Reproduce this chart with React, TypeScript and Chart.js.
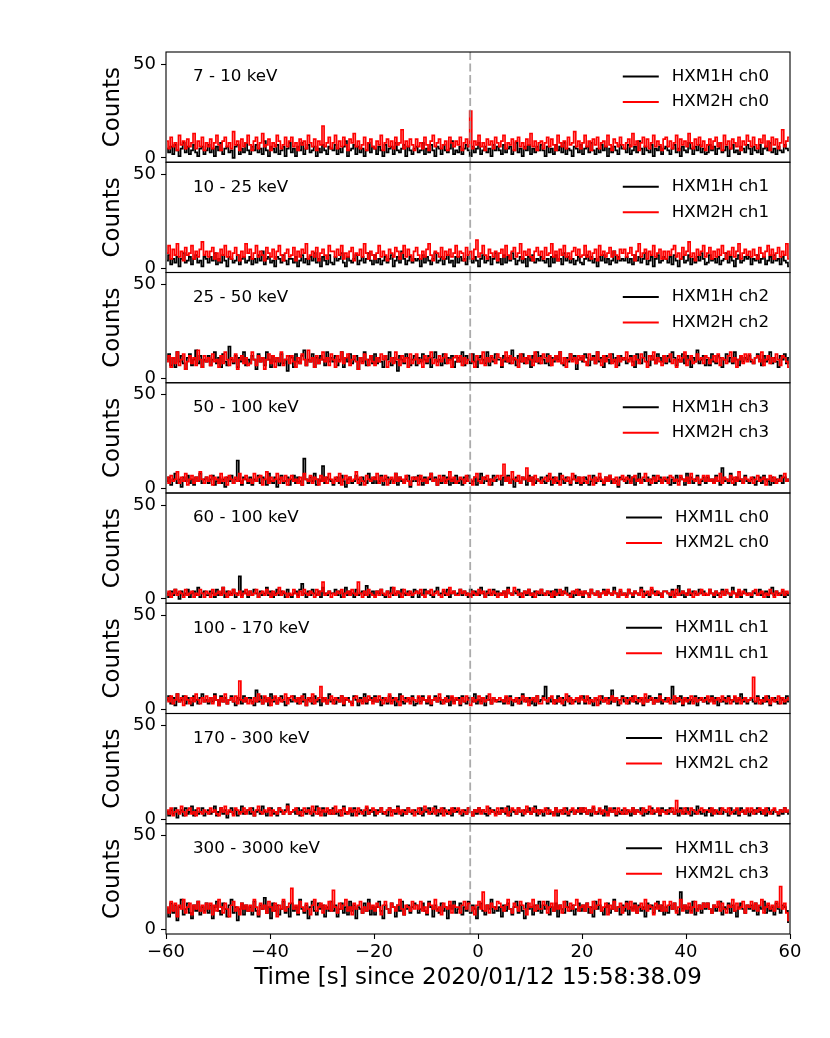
import { useEffect, useRef } from 'react'
import { Chart, registerables } from 'chart.js'

Chart.register(...registerables)

const FONT = '"DejaVu Sans", sans-serif'

// light curves, 0.4 s bins from -60 s to +60 s
const T_START = -60
const BIN = 0.4
const T_TRIGGER = -1.5

const X_TICKS = [-60, -40, -20, 0, 20, 40, 60]
const Y_TICKS = [0, 50]
const Y_MIN = -2.3
const Y_MAX = 56.4

const BANDS = ['7 - 10 keV', '10 - 25 keV', '25 - 50 keV', '50 - 100 keV', '60 - 100 keV', '100 - 170 keV', '170 - 300 keV', '300 - 3000 keV']
const NAMES_1 = ['HXM1H ch0', 'HXM1H ch1', 'HXM1H ch2', 'HXM1H ch3', 'HXM1L ch0', 'HXM1L ch1', 'HXM1L ch2', 'HXM1L ch3']
const NAMES_2 = ['HXM2H ch0', 'HXM2H ch1', 'HXM2H ch2', 'HXM2H ch3', 'HXM2L ch0', 'HXM1L ch1', 'HXM2L ch2', 'HXM2L ch3']

const HXM1H_CH0 = [
  5,3,6,2,7,4,1,5,8,3,6,2,4,7,3,1,5,6,2,4,
  7,3,5,1,6,4,8,2,5,6,3,4,0,6,7,2,5,3,8,4,
  2,6,4,7,3,5,2,9,4,1,6,5,3,7,2,4,6,1,5,8,
  3,5,1,6,4,8,2,5,7,3,4,6,1,5,3,7,4,2,6,5,
  4,7,2,5,3,6,9,1,4,5,7,2,6,3,5,1,4,8,3,6,
  5,2,6,4,1,7,3,5,6,2,8,4,3,5,7,1,6,4,2,5,
  6,3,4,8,2,5,3,7,4,1,6,5,2,7,4,3,5,9,2,4,
  3,6,2,5,7,4,1,6,3,5,8,2,4,6,3,5,1,7,4,6,
  4,2,7,3,5,6,2,4,8,3,5,1,6,4,7,2,5,3,6,4,
  7,4,1,6,3,5,2,7,4,6,3,8,2,5,4,1,6,5,3,7,
  2,5,6,3,8,4,2,5,3,7,4,6,1,5,3,6,4,2,7,5,
  5,3,7,2,4,6,3,9,5,2,6,4,3,7,1,5,4,6,2,5,
  6,4,2,5,7,3,5,1,6,4,3,8,5,2,6,4,7,3,5,2,
  3,7,4,6,2,5,8,3,4,6,1,5,7,3,4,2,6,5,3,7,
  5,2,6,4,3,7,2,5,6,4,8,3,5,2,6,4,3,7,5,4,
]
const HXM2H_CH0 = [
  9,5,11,6,8,4,12,7,9,5,10,6,8,13,5,9,6,11,4,8,
  6,10,5,8,12,7,4,9,11,6,8,5,14,7,9,4,10,6,8,12,
  7,4,9,11,5,8,13,6,7,10,4,8,6,12,9,5,7,11,6,9,
  11,6,8,4,10,7,9,5,12,8,6,10,4,9,7,17,6,8,11,5,
  8,12,5,9,6,11,7,4,10,8,13,6,9,5,7,11,4,8,10,6,
  5,9,7,12,4,8,10,6,9,5,11,7,8,15,5,9,6,10,7,4,
  10,6,8,5,11,7,4,9,12,6,8,10,5,7,9,4,11,8,6,9,
  7,11,4,8,10,6,25,5,9,7,12,6,8,4,10,7,9,5,11,8,
  6,9,12,5,8,7,10,4,9,11,6,8,5,10,7,13,6,9,4,8,
  9,5,8,11,6,10,7,4,12,8,6,9,5,11,7,8,14,6,9,5,
  8,12,6,9,4,10,7,11,5,8,9,6,12,7,4,10,8,6,11,7,
  5,8,10,6,13,7,9,4,8,11,6,10,5,8,12,6,9,7,4,10,
  11,6,9,5,8,12,4,10,7,9,6,13,8,5,10,7,11,6,9,4,
  7,10,5,9,11,6,8,4,12,7,9,5,10,8,6,11,4,9,7,12,
  9,6,11,7,5,10,8,12,6,9,4,11,7,10,5,8,15,6,9,11,
]
const HXM1H_CH1 = [
  4,7,2,5,3,6,1,5,8,3,4,6,2,5,7,3,4,1,6,5,
  3,6,4,8,2,5,3,7,4,1,6,5,3,4,7,2,5,6,3,4,
  6,2,5,3,7,4,9,2,5,6,3,4,1,6,5,3,7,4,2,5,
  5,3,6,1,4,7,3,5,2,6,4,8,3,5,1,6,4,2,7,3,
  2,6,4,5,8,3,1,6,4,3,5,7,2,4,6,3,5,8,4,2,
  7,3,5,2,4,6,3,5,7,1,4,6,3,9,5,2,4,6,3,5,
  4,5,1,7,3,6,4,2,5,8,3,4,6,2,5,7,3,4,1,6,
  3,6,4,5,2,7,5,3,6,4,1,5,7,3,4,6,2,5,8,3,
  5,2,7,3,6,4,8,5,2,4,6,3,5,1,6,4,7,3,5,4,
  6,4,3,5,1,6,3,7,4,5,2,8,4,6,3,5,2,4,6,3,
  2,5,7,4,6,3,5,1,6,4,7,3,5,2,4,9,3,6,4,5,
  4,6,3,5,2,7,4,6,3,5,8,2,4,6,1,5,7,3,4,6,
  5,3,6,2,7,4,1,5,6,3,4,7,2,5,3,6,4,8,5,2,
  3,7,4,5,3,6,2,4,5,8,3,6,4,1,5,7,3,4,6,5,
  6,2,5,4,7,3,5,6,2,4,6,3,7,4,5,2,6,4,3,1,
]
const HXM2H_CH1 = [
  8,12,5,10,7,13,6,9,4,11,7,8,12,5,9,6,10,14,7,9,
  6,9,11,5,8,4,10,7,12,6,9,5,8,11,7,4,9,6,13,8,
  10,5,8,12,6,9,7,4,11,8,6,10,5,9,12,7,4,8,10,6,
  7,11,4,9,6,10,8,13,5,7,9,6,11,4,8,10,7,5,12,9,
  9,6,10,7,12,5,8,6,9,11,4,8,7,10,6,13,8,5,9,7,
  5,8,12,6,9,7,4,10,8,6,11,9,5,8,12,6,10,7,4,9,
  11,7,5,9,6,10,13,7,4,9,8,6,11,5,9,7,10,6,8,12,
  6,9,8,4,11,7,9,5,10,15,6,8,12,7,5,10,8,6,9,4,
  8,10,6,12,7,5,9,11,6,8,13,5,9,7,10,6,4,9,11,7,
  9,5,11,7,8,13,6,9,4,10,7,12,6,8,5,9,11,7,10,6,
  7,12,6,9,5,8,10,4,12,7,9,6,8,11,6,9,7,5,10,8,
  10,6,8,11,7,4,9,13,6,8,10,5,9,7,12,6,8,10,5,9,
  5,9,7,10,12,6,8,5,11,7,9,14,6,8,4,10,7,9,12,6,
  8,11,5,9,6,10,7,12,8,5,9,7,11,6,9,13,5,8,10,7,
  9,6,10,7,5,11,8,6,9,12,7,10,5,8,11,6,9,7,13,5,
]
const HXM1H_CH2 = [
  10,13,7,11,6,14,9,12,8,5,11,13,7,10,15,8,12,6,10,9,
  12,7,10,14,8,11,6,13,9,7,17,10,8,12,6,11,9,14,7,10,
  8,12,10,5,13,9,11,7,14,10,6,12,9,11,7,13,8,10,4,12,
  11,6,13,9,8,12,15,7,10,9,13,6,11,8,12,10,7,14,9,11,
  9,12,7,10,14,6,11,9,13,8,10,12,5,11,9,14,7,10,12,8,
  13,8,11,9,6,12,10,14,7,11,9,4,12,10,8,13,11,7,10,12,
  7,11,9,13,10,8,12,6,11,14,9,10,7,13,8,11,10,12,6,9,
  11,9,14,7,12,10,8,13,9,6,11,12,10,8,14,7,11,9,13,10,
  10,6,12,9,11,8,15,10,7,12,9,13,8,11,10,6,12,9,14,8,
  12,10,8,13,7,11,9,12,10,14,8,7,11,9,13,10,12,5,10,11,
  9,13,11,7,10,12,8,14,9,11,6,12,10,8,13,9,11,7,12,10,
  11,8,10,12,9,6,13,10,8,11,14,9,7,12,10,8,13,11,9,12,
  8,12,9,14,11,7,10,9,13,8,12,10,6,11,9,15,8,10,12,7,
  10,7,13,9,8,12,11,6,10,13,9,11,8,14,10,7,12,9,11,10,
  12,9,8,11,13,10,7,12,9,10,14,8,11,9,6,12,10,13,8,11,
]
const HXM2H_CH2 = [
  9,12,6,11,8,14,7,10,13,5,9,12,8,11,7,15,10,6,12,9,
  11,7,13,9,10,6,12,8,14,10,7,11,9,13,5,10,12,8,11,7,
  8,14,10,7,12,9,11,5,10,13,8,12,6,11,9,14,7,10,12,8,
  12,9,6,11,8,13,10,7,15,9,11,6,12,8,10,14,9,11,7,13,
  10,6,12,9,14,8,11,13,7,10,12,9,5,11,8,13,10,7,12,9,
  7,11,9,13,10,12,6,9,11,8,14,10,7,12,9,11,6,13,8,10,
  13,8,10,6,12,9,11,14,8,10,7,12,9,11,13,8,10,6,11,12,
  9,12,7,11,8,10,13,9,6,12,10,8,14,7,11,9,12,10,8,13,
  11,7,10,14,9,12,8,11,10,6,13,9,11,8,12,10,7,14,9,11,
  8,13,11,9,12,7,10,12,9,14,8,11,6,10,13,9,11,8,12,10,
  12,9,7,13,10,11,8,14,10,7,12,9,11,13,8,10,6,12,9,11,
  10,14,9,11,7,12,10,8,13,11,9,6,12,10,14,8,11,9,7,12,
  9,11,13,8,10,6,12,9,11,14,7,10,12,8,9,13,10,11,8,12,
  11,8,10,12,9,13,7,11,10,8,12,14,9,11,6,10,12,8,13,9,
  13,10,8,11,12,9,14,7,10,12,8,11,9,13,10,7,12,11,9,6,
]
const HXM1H_CH3 = [
  4,6,2,5,8,3,5,1,6,4,7,3,5,2,6,4,8,3,5,6,
  3,5,7,2,4,6,3,5,1,6,4,7,3,5,15,4,2,6,5,3,
  6,2,5,4,7,3,6,5,2,8,4,3,6,1,5,7,3,4,6,2,
  5,7,3,6,4,2,16,5,3,6,4,8,2,5,4,12,3,6,5,4,
  2,5,6,3,7,4,1,5,6,3,4,7,5,2,6,4,3,8,5,3,
  6,3,4,7,2,5,6,3,5,4,8,2,6,4,3,5,7,1,4,6,
  4,7,5,2,6,3,5,8,4,6,2,5,3,7,4,6,2,5,3,7,
  3,5,2,6,4,7,3,4,6,2,5,8,3,6,4,5,2,7,4,5,
  5,2,6,4,7,3,5,1,6,4,3,6,5,2,7,4,6,3,5,4,
  6,4,3,7,5,2,6,4,3,8,5,3,6,4,2,5,7,3,6,2,
  3,6,5,2,4,7,3,5,6,4,2,6,4,7,3,5,4,1,6,5,
  5,3,7,4,6,2,5,8,3,5,4,6,2,5,7,3,4,6,3,5,
  4,6,2,5,3,7,4,6,5,2,8,4,6,3,5,7,2,4,6,3,
  6,4,5,3,7,4,2,11,4,5,3,8,5,2,6,4,5,3,7,4,
  3,5,6,2,4,6,3,7,5,4,2,6,3,5,4,7,3,6,4,5,
]
const HXM2H_CH3 = [
  6,3,7,4,5,9,3,6,4,8,2,5,7,3,6,4,9,5,3,6,
  4,7,2,6,5,3,8,4,6,2,7,5,3,6,4,8,3,5,7,4,
  5,3,8,4,6,7,2,5,9,3,6,4,5,8,3,6,4,7,2,5,
  7,4,5,3,6,2,8,5,4,7,3,6,5,2,7,4,6,3,8,5,
  3,6,4,8,2,5,7,3,6,4,5,9,3,6,4,2,7,5,4,6,
  5,8,3,6,4,7,2,5,6,3,8,4,6,5,3,7,4,2,6,5,
  6,2,7,4,5,3,6,8,4,5,2,7,4,6,3,5,9,4,6,3,
  4,6,5,3,7,4,5,2,6,8,4,3,6,5,7,2,5,4,6,7,
  5,7,13,4,6,3,9,5,4,7,3,6,5,11,4,6,2,7,5,4,
  3,5,6,4,8,5,3,6,4,2,7,5,4,6,3,8,5,4,6,3,
  6,4,3,7,5,2,6,4,8,5,3,6,4,7,5,3,6,2,5,7,
  4,6,5,3,6,7,4,5,3,6,8,4,5,3,6,4,7,5,3,6,
  5,3,7,6,4,5,2,7,5,4,6,3,8,5,4,6,3,5,7,4,
  7,4,5,3,6,4,8,3,6,5,4,7,3,6,4,9,5,3,6,5,
  4,6,3,5,7,4,5,6,2,5,7,4,6,3,5,4,6,8,4,5,
]
const HXM1L_CH0 = [
  3,1,4,2,5,3,0,4,2,3,5,1,3,4,2,6,1,3,4,2,
  2,4,3,1,5,2,3,6,1,4,2,3,5,1,3,12,2,4,3,1,
  4,2,5,3,1,4,2,3,6,2,4,1,3,5,2,4,3,1,5,2,
  1,3,4,2,5,8,3,1,4,2,5,3,2,4,1,6,3,2,4,3,
  3,5,2,4,1,3,6,2,4,3,1,5,2,3,4,2,7,1,3,4,
  2,4,3,5,2,1,4,3,6,2,3,4,1,5,3,2,4,3,1,5,
  4,1,3,2,5,3,4,2,1,4,6,2,3,4,2,5,1,3,4,2,
  3,5,2,4,3,1,5,2,4,3,2,6,3,1,4,2,3,5,2,4,
  2,3,4,1,6,3,2,4,3,5,1,3,4,2,5,3,1,4,3,2,
  5,2,3,4,2,4,1,5,3,2,4,3,6,2,3,1,4,2,5,3,
  1,4,3,2,5,3,2,4,1,3,5,2,4,3,2,6,3,1,4,2,
  3,2,5,3,1,4,3,2,6,4,2,3,1,5,3,4,2,3,1,4,
  4,3,1,5,2,3,7,2,4,1,3,5,2,4,3,2,5,3,4,2,
  2,5,3,1,4,2,3,5,2,4,3,1,6,3,2,4,1,3,5,3,
  3,1,4,3,2,5,2,3,4,1,3,6,2,4,3,2,4,1,3,2,
]
const HXM2L_CH0 = [
  2,4,1,3,5,2,4,3,1,5,2,3,4,1,3,2,5,3,1,4,
  3,1,5,2,3,4,2,6,3,1,4,2,5,3,2,4,1,3,5,2,
  4,2,3,5,1,3,4,2,5,3,1,4,2,3,6,2,4,3,1,3,
  2,5,3,1,4,2,5,3,2,4,3,1,5,2,4,9,2,3,4,1,
  3,2,4,3,5,1,3,4,2,5,3,2,9,3,1,4,2,5,3,2,
  1,4,2,5,3,2,4,1,3,6,2,4,3,1,5,3,2,4,2,3,
  4,3,5,2,1,4,3,5,2,3,4,2,1,5,3,2,6,3,4,2,
  2,5,3,4,2,3,1,4,3,2,5,3,4,1,3,5,2,4,3,1,
  3,2,4,1,5,3,2,6,4,2,3,1,4,3,5,2,3,1,4,3,
  5,3,2,4,3,1,4,2,3,5,2,4,3,2,1,4,3,5,2,4,
  2,4,3,1,5,3,2,4,1,3,4,2,5,3,2,4,3,1,5,2,
  3,1,5,3,2,4,3,2,5,1,3,4,2,6,3,2,4,3,1,4,
  4,3,2,4,1,5,2,3,4,3,2,5,3,1,4,2,3,5,2,3,
  2,5,3,2,4,3,1,4,2,5,3,2,4,3,1,5,2,4,3,2,
  3,2,4,5,2,3,4,1,3,2,5,3,1,4,2,3,5,2,4,3,
]
const HXM1L_CH1 = [
  5,7,3,6,2,8,4,5,7,3,6,4,2,7,5,3,6,8,4,5,
  3,6,4,8,5,2,7,4,6,3,5,7,4,2,6,5,3,7,4,6,
  6,4,2,10,4,7,3,6,5,2,8,4,6,3,5,7,4,2,6,5,
  4,7,5,3,6,4,8,2,5,6,3,7,4,5,2,6,5,3,8,4,
  5,3,6,4,7,2,5,6,4,3,7,5,2,6,4,8,3,5,6,4,
  7,4,5,2,6,5,3,7,4,6,2,5,8,4,3,6,5,4,7,2,
  3,6,4,7,5,3,6,2,5,7,4,6,3,5,4,7,2,6,4,5,
  6,2,7,4,3,6,5,4,8,3,5,4,6,2,7,5,3,6,5,4,
  4,5,3,6,4,7,2,5,4,6,3,8,5,4,6,3,5,2,7,4,
  5,7,12,3,6,4,5,3,7,4,6,2,5,7,3,5,4,6,3,6,
  7,3,5,6,4,2,6,5,3,7,4,5,6,3,10,4,6,2,5,7,
  4,6,3,5,7,4,3,6,5,2,6,4,7,5,3,6,4,8,3,5,
  6,4,5,12,3,6,4,7,2,5,6,3,5,4,7,2,6,5,4,6,
  3,5,7,4,6,2,5,4,6,3,7,5,4,6,3,5,8,4,6,3,
  5,6,4,3,7,5,3,6,4,7,2,5,6,4,3,6,5,3,7,4,
]
const HXM1L_CH1_B = [
  6,4,7,3,5,8,4,6,2,7,5,3,6,4,8,5,3,6,4,7,
  4,6,3,7,5,2,6,4,8,3,5,6,4,7,3,15,5,4,6,3,
  5,3,6,4,8,5,3,7,4,6,2,5,7,3,6,4,5,8,3,6,
  7,5,4,6,3,7,5,2,6,4,8,3,5,6,12,4,6,3,5,7,
  3,6,5,4,7,3,6,5,4,2,6,7,4,5,3,6,4,7,5,3,
  6,4,7,5,3,6,4,8,3,5,6,4,2,7,5,4,6,3,6,5,
  4,7,3,6,5,4,7,3,5,6,4,8,5,3,6,4,5,7,3,6,
  5,3,6,4,7,5,2,6,4,5,7,3,6,4,5,8,3,6,4,5,
  6,5,4,7,3,6,5,4,6,3,5,7,4,6,2,5,6,4,7,3,
  3,6,5,4,6,7,3,5,4,6,3,5,8,4,6,3,5,6,4,7,
  5,4,7,3,5,4,6,2,7,5,4,6,3,5,7,4,6,5,3,6,
  6,3,5,6,4,7,5,4,6,3,8,4,5,6,3,5,4,7,5,4,
  4,6,3,5,7,4,6,5,3,6,4,5,7,3,6,4,5,6,4,5,
  7,4,6,3,5,6,4,7,5,4,6,3,5,7,4,6,3,5,6,4,
  5,6,17,4,6,3,5,4,7,5,3,6,4,5,7,3,6,4,5,6,
]
const HXM1L_CH2 = [
  4,2,5,3,6,1,4,5,2,6,3,4,7,2,5,3,4,6,2,4,
  5,3,4,7,2,4,6,3,5,1,4,6,3,5,2,4,7,3,4,5,
  3,6,2,4,5,3,7,4,2,5,6,3,4,2,6,4,3,5,8,3,
  4,5,3,6,2,5,4,3,6,4,2,5,7,3,4,6,2,4,5,3,
  6,3,4,2,5,7,3,4,5,2,6,4,3,5,4,2,6,3,5,4,
  2,5,4,6,3,4,2,6,4,5,3,7,4,2,5,3,6,4,3,5,
  4,3,6,2,5,4,6,3,4,7,2,5,3,6,4,3,5,2,6,4,
  5,4,2,5,3,6,4,2,5,3,6,4,5,3,2,6,4,5,3,4,
  3,6,4,3,7,2,5,4,3,6,4,2,5,4,6,3,4,7,2,5,
  4,2,5,6,3,4,3,6,2,4,5,3,6,2,4,5,3,4,6,3,
  6,4,3,5,2,6,4,3,5,4,2,7,3,5,4,6,2,4,3,5,
  3,5,4,2,6,3,5,4,6,2,5,3,4,6,3,4,5,2,6,4,
  5,3,6,4,3,5,2,6,4,3,6,4,2,5,3,7,4,3,5,2,
  4,6,2,5,4,3,6,3,5,4,2,6,4,3,5,2,6,4,3,5,
  2,4,5,3,6,4,3,5,2,6,4,3,5,4,2,5,3,6,4,3,
]
const HXM2L_CH2 = [
  5,3,6,2,4,5,3,7,4,2,5,6,3,4,2,6,4,3,5,4,
  3,6,4,5,3,2,6,4,7,3,5,4,2,6,5,3,4,6,3,5,
  6,4,2,5,7,4,3,5,4,6,2,5,4,3,6,5,3,4,7,3,
  4,5,6,3,4,2,6,4,5,3,7,4,3,6,2,5,4,6,3,5,
  3,7,4,5,2,6,4,3,6,4,5,2,6,4,3,5,7,3,4,6,
  5,3,4,6,4,3,5,6,2,5,4,6,3,5,4,3,6,4,5,2,
  4,6,3,4,7,5,3,4,6,3,5,4,6,2,5,4,3,6,4,5,
  6,3,5,4,3,6,4,2,5,4,6,3,5,4,7,3,5,4,2,6,
  3,5,4,6,2,4,6,5,3,6,4,5,3,7,4,3,6,4,5,3,
  5,4,6,3,5,4,2,6,4,5,3,6,4,3,5,6,3,5,4,6,
  4,6,3,5,4,7,3,4,6,3,5,4,2,6,4,5,3,6,4,3,
  6,3,5,4,6,3,5,4,3,6,4,5,7,3,5,4,6,3,5,4,
  3,5,4,6,3,10,4,5,3,6,4,3,6,5,4,3,5,6,4,5,
  5,4,6,3,5,4,3,6,5,4,6,3,4,5,6,3,4,5,3,6,
  4,6,3,5,4,6,5,3,6,4,3,5,6,4,3,5,4,6,4,5,
]
const HXM1L_CH3 = [
  11,7,14,9,13,5,12,16,8,11,14,9,6,13,10,15,8,12,10,14,
  9,13,6,12,15,10,8,14,11,7,13,16,9,12,5,11,14,8,13,10,
  12,8,15,10,7,13,11,17,9,12,6,14,10,13,8,11,15,9,12,7,
  14,10,12,8,16,11,9,13,6,12,15,10,8,14,11,13,7,12,10,15,
  10,13,7,11,14,9,12,8,15,10,13,6,12,11,9,14,10,16,8,12,
  8,12,15,10,6,13,11,9,14,12,7,13,10,15,8,11,13,9,12,14,
  13,9,11,14,10,8,15,12,7,13,11,9,14,10,12,6,13,11,15,9,
  11,14,8,12,10,15,9,13,11,6,12,14,10,8,13,11,16,9,12,10,
  12,7,13,10,14,11,8,12,15,9,13,10,6,14,11,12,8,13,10,15,
  9,13,11,15,8,12,10,14,7,13,11,9,15,12,10,13,8,11,14,10,
  13,10,14,9,12,7,15,11,13,10,8,12,14,9,11,16,10,12,8,13,
  10,15,8,12,11,14,9,13,10,12,7,14,11,13,9,12,15,10,13,8,
  12,9,13,11,14,10,8,20,11,13,9,12,10,15,8,11,13,9,14,11,
  14,11,9,13,10,12,15,8,12,11,14,9,13,10,7,12,14,11,9,13,
  11,13,10,14,8,12,11,15,9,13,10,12,8,14,11,9,13,12,10,4,
]
const HXM2L_CH3 = [
  12,9,15,10,14,7,13,11,16,9,12,14,8,13,11,15,10,13,9,14,
  11,14,8,13,10,16,12,9,14,11,7,13,15,10,12,8,14,11,13,10,
  13,10,16,12,8,14,11,13,9,15,12,10,14,7,13,11,16,10,12,14,
  22,11,13,9,15,12,10,14,11,8,13,16,10,12,14,9,13,11,15,10,
  21,12,9,14,11,13,16,10,12,8,14,11,13,15,9,12,10,14,11,13,
  10,14,12,8,13,15,11,9,14,12,10,13,16,11,8,13,12,10,15,11,
  13,11,15,10,12,9,14,13,11,16,10,12,8,14,12,11,15,9,13,12,
  12,9,13,15,11,14,10,12,8,13,15,11,20,10,13,9,14,12,11,15,
  14,12,10,13,16,11,9,14,12,10,15,13,11,8,14,12,16,10,13,11,
  11,15,13,9,12,14,10,21,11,13,9,15,12,10,14,11,13,16,10,12,
  13,10,14,12,9,15,11,13,16,10,12,14,8,13,11,15,10,12,14,9,
  12,14,11,15,10,13,9,12,14,11,16,10,13,12,8,14,11,13,10,15,
  10,13,15,11,14,9,12,16,10,13,11,14,9,12,15,10,13,11,14,12,
  14,11,9,13,12,15,10,14,11,9,13,12,16,10,14,11,12,15,9,13,
  12,15,11,14,10,13,16,9,12,14,11,13,10,15,12,23,11,14,9,5,
]

const SERIES_1 = [HXM1H_CH0, HXM1H_CH1, HXM1H_CH2, HXM1H_CH3, HXM1L_CH0, HXM1L_CH1, HXM1L_CH2, HXM1L_CH3]
const SERIES_2 = [HXM2H_CH0, HXM2H_CH1, HXM2H_CH2, HXM2H_CH3, HXM2L_CH0, HXM1L_CH1_B, HXM2L_CH2, HXM2L_CH3]

const TIME = HXM1H_CH0.map((_, k) => T_START + BIN * (k + 0.5))

const minus = (v: number) => (v < 0 ? '\u2212' + Math.abs(v) : String(v))

// frames, band labels, legends and trigger line for each stacked panel
const panelDecor = {
  id: 'panelDecor',
  afterDatasetsDraw(chart: any) {
    const { ctx, chartArea } = chart
    const tx = chart.scales.x.getPixelForValue(T_TRIGGER)
    BANDS.forEach((band, i) => {
      const ys = chart.scales['y' + i]
      const top = ys.top
      const bottom = ys.bottom
      ctx.save()
      ctx.beginPath()
      ctx.rect(chartArea.left, top, chartArea.right - chartArea.left, bottom - top)
      ctx.clip()
      ctx.strokeStyle = 'rgba(150,150,150,0.8)'
      ctx.lineWidth = 1.8
      ctx.setLineDash([8, 3.5])
      ctx.beginPath()
      ctx.moveTo(tx, top)
      ctx.lineTo(tx, bottom)
      ctx.stroke()
      ctx.restore()

      ctx.save()
      ctx.strokeStyle = '#000'
      ctx.lineWidth = 1.1
      ctx.strokeRect(chartArea.left, top, chartArea.right - chartArea.left, bottom - top)

      ctx.font = '16.7px ' + FONT
      ctx.fillStyle = '#000'
      ctx.textBaseline = 'middle'
      ctx.textAlign = 'left'
      ctx.fillText(band, chartArea.left + 27, top + 25)

      const entries: [string, string][] = [[NAMES_1[i], '#000000'], [NAMES_2[i], '#ff0000']]
      const w = Math.max(...entries.map(e => ctx.measureText(e[0]).width))
      const textX = chartArea.right - 21 - w
      entries.forEach(([name, color], j) => {
        const y = top + 24.5 + j * 25.5
        ctx.strokeStyle = color
        ctx.lineWidth = 1.8
        ctx.beginPath()
        ctx.moveTo(textX - 13 - 36, y)
        ctx.lineTo(textX - 13, y)
        ctx.stroke()
        ctx.fillStyle = '#000'
        ctx.fillText(name, textX, y)
      })
      ctx.restore()
    })
  },
}

export default function App() {
  const canvasRef = useRef<HTMLCanvasElement>(null)
  const chartRef = useRef<Chart | null>(null)

  useEffect(() => {
    if (!canvasRef.current) return
    if (chartRef.current) chartRef.current.destroy()

    const datasets: any[] = []
    const scales: any = {
      x: {
        type: 'linear',
        min: X_TICKS[0],
        max: X_TICKS[X_TICKS.length - 1],
        afterBuildTicks: (s: any) => { s.ticks = X_TICKS.map(v => ({ value: v })) },
        afterFit: (s: any) => { s.height = 70 },
        ticks: { color: '#000', font: { family: FONT, size: 18 }, padding: 3, maxRotation: 0, autoSkip: false, callback: (v: any) => minus(Number(v)) },
        grid: { display: true, drawOnChartArea: false, drawTicks: true, tickLength: 5, color: '#000', tickWidth: 1.1 },
        border: { display: false },
        title: { display: true, text: 'Time [s] since 2020/01/12 15:58:38.09', color: '#000', font: { family: FONT, size: 23 }, padding: { top: 0, bottom: 12 } },
      },
    }

    BANDS.forEach((_, i) => {
      const id = 'y' + i
      scales[id] = {
        type: 'linear',
        position: 'left',
        stack: 'panels',
        stackWeight: 1,
        weight: BANDS.length - i,
        min: Y_MIN,
        max: Y_MAX,
        afterBuildTicks: (s: any) => { s.ticks = Y_TICKS.map(v => ({ value: v })) },
        afterFit: (s: any) => { s.width = 67 },
        ticks: { color: '#000', font: { family: FONT, size: 18 }, padding: 5 },
        grid: { display: true, drawOnChartArea: false, drawTicks: true, tickLength: 5, color: '#000', tickWidth: 1.1 },
        border: { display: false },
        title: { display: true, text: 'Counts', color: '#000', font: { family: FONT, size: 23 }, padding: 0 },
      }
      datasets.push({
        label: NAMES_2[i],
        data: SERIES_2[i].map((y, k) => ({ x: TIME[k], y })),
        yAxisID: id,
        borderColor: '#ff0000',
        borderWidth: 1.7,
        pointRadius: 0,
        stepped: 'middle',
        fill: false,
        order: 0,
      })
      datasets.push({
        label: NAMES_1[i],
        data: SERIES_1[i].map((y, k) => ({ x: TIME[k], y })),
        yAxisID: id,
        borderColor: '#000000',
        borderWidth: 1.7,
        pointRadius: 0,
        stepped: 'middle',
        fill: false,
        order: 1,
      })
    })

    chartRef.current = new Chart(canvasRef.current, {
      type: 'line',
      data: { datasets },
      options: {
        responsive: true,
        maintainAspectRatio: false,
        animation: false,
        layout: { padding: { left: 99, right: 40, top: 52, bottom: 34 } },
        scales,
        plugins: { legend: { display: false }, tooltip: { enabled: false } },
      },
      plugins: [panelDecor],
    })

    return () => { chartRef.current?.destroy() }
  }, [])

  return (
    <div style={{ position: 'absolute', left: 0, top: 0, width: '830px', height: '1038px', background: '#fff' }}>
      <canvas ref={canvasRef} />
    </div>
  )
}
